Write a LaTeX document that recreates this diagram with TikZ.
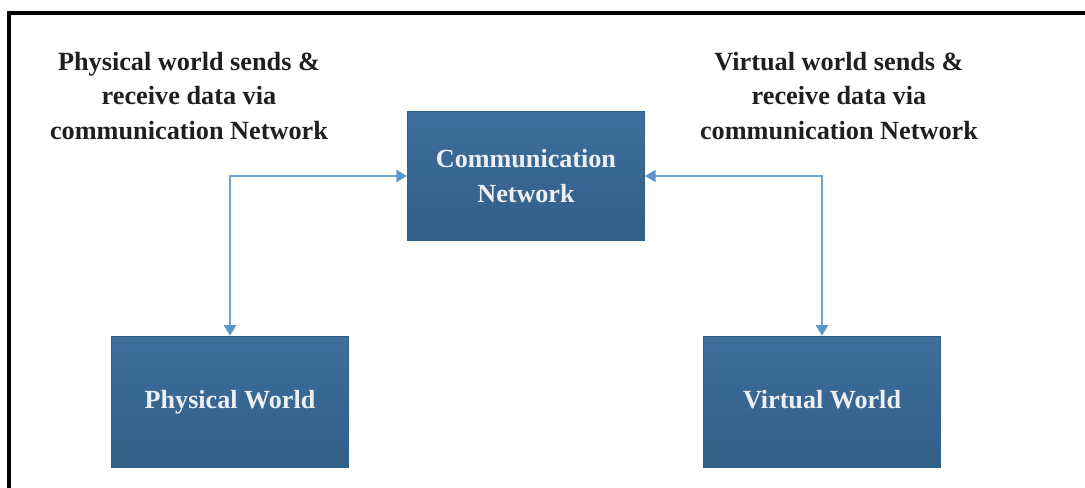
\documentclass[tikz,border=0pt]{standalone}
\usepackage{fontspec}
\setmainfont{Liberation Serif}
\usetikzlibrary{arrows.meta}
\definecolor{boxtop}{HTML}{3E6E9C}
\definecolor{boxbot}{HTML}{325F88}
\definecolor{linkblue}{HTML}{6FA3CF}
\definecolor{tipblue}{HTML}{5B95CC}
\tikzset{
  px/.style={x=0.75pt,y=-0.75pt},
  world/.style={rectangle,draw=boxbot,line width=0.5pt,top color=boxtop,bottom color=boxbot,
    text=white!90!boxtop,align=center,font=\bfseries\fontsize{19.6}{26}\selectfont,inner sep=0pt},
  note/.style={align=center,text=black!88,font=\bfseries\fontsize{19.7}{26.2}\selectfont,inner sep=0pt},
  link/.style={draw=linkblue,line width=1.9pt,{Triangle[length=8pt,width=9pt,color=tipblue]}-{Triangle[length=8pt,width=9pt,color=tipblue]}}
}
\begin{document}
\begin{tikzpicture}[px]
\useasboundingbox (0,0) rectangle (1085,488);
\draw[line width=3pt,black] (9,488) -- (9,13) -- (1085,13);
\node[world,minimum width=178pt,minimum height=97pt] (net) at (526,176) {Communication\\Network};
\node[world,minimum width=178pt,minimum height=98pt] (phys) at (230,401.5) {Physical World\strut};
\node[world,minimum width=178pt,minimum height=98pt] (virt) at (822,401.5) {Virtual World\strut};
\node[note] (n1) at (189,96) {Physical world sends \&\\receive data via\\communication Network};
\node[note] (n2) at (839,96) {Virtual world sends \&\\receive data via\\communication Network};
\draw[link] (net.west) -| (phys.north);
\draw[link] (net.east) -| (virt.north);
\end{tikzpicture}
\end{document}
